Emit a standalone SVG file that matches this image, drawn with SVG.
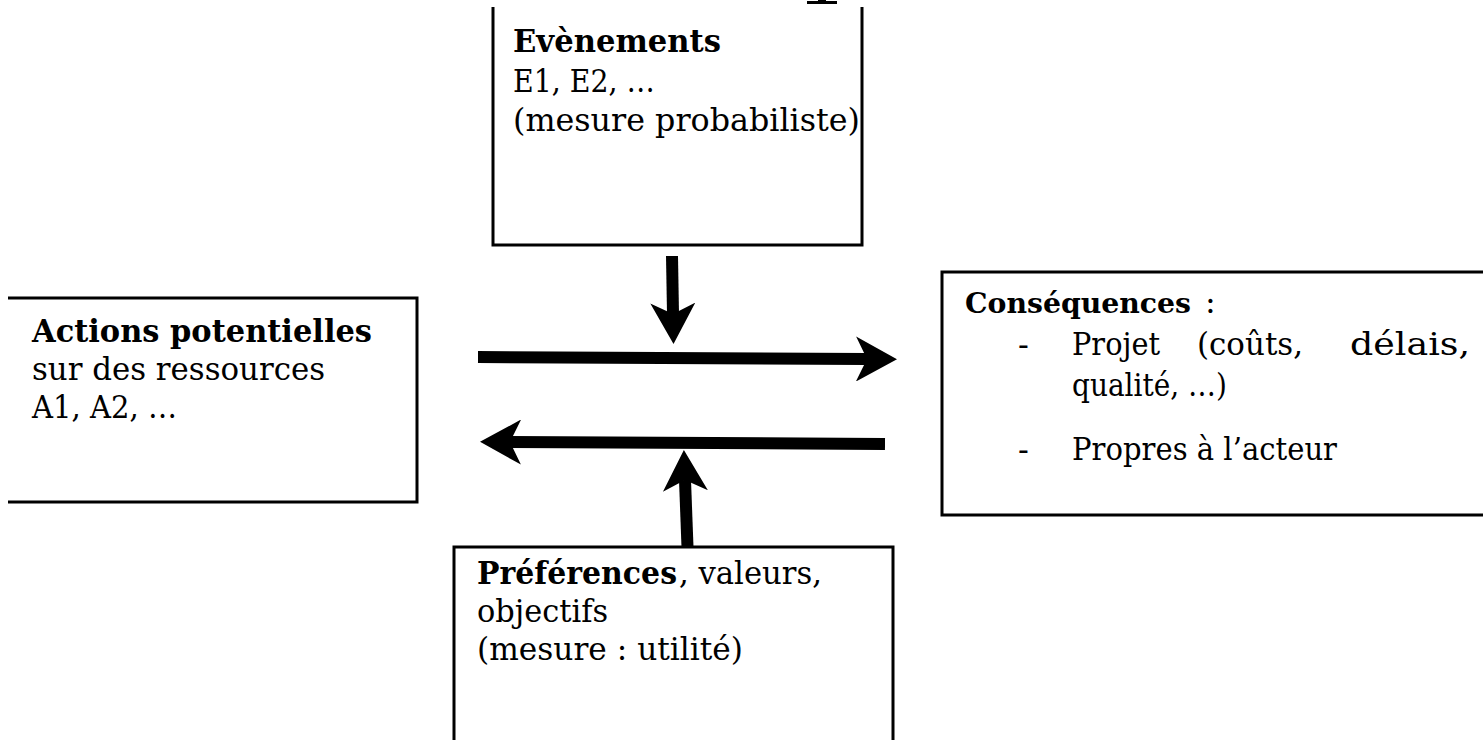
<svg xmlns="http://www.w3.org/2000/svg" width="1483" height="740" viewBox="0 0 1483 740">
<style>
  .box { fill: none; stroke: #000; stroke-width: 3; }
  .t { font-family: "DejaVu Serif", "Liberation Serif", serif; font-size: 32px; fill: #000; }
  .b { font-weight: bold; }
  .arrow { stroke: #000; stroke-width: 12; fill: none; marker-end: url(#head); }
</style>
<defs>
  <marker id="head" markerUnits="userSpaceOnUse" viewBox="0 0 41 45" markerWidth="41" markerHeight="45" refX="11" refY="22.5" orient="auto">
    <path d="M0,0 L41,22.5 L0,45 L11,22.5 Z" fill="#000"/>
  </marker>
</defs>
<rect width="1483" height="740" fill="#fff"/>

<path d="M807,4 L837,4 L837,1 L826,1 L826,0 L818,0 L818,1 L807,1 Z" fill="#000"/>

<g id="evenements">
  <path class="box" d="M493,7 V245 H862 V7"/>
  <text class="t b" x="513" y="52" textLength="208" lengthAdjust="spacingAndGlyphs">Evènements</text>
  <text class="t" x="513" y="92" textLength="142" lengthAdjust="spacingAndGlyphs">E1, E2, …</text>
  <text class="t" x="513" y="131" textLength="347" lengthAdjust="spacingAndGlyphs">(mesure probabiliste)</text>
</g>

<g id="actions">
  <path class="box" d="M8,298 H417 V502 H8"/>
  <text class="t b" x="32" y="342" textLength="340" lengthAdjust="spacingAndGlyphs">Actions potentielles</text>
  <text class="t" x="32" y="380" textLength="293" lengthAdjust="spacingAndGlyphs">sur des ressources</text>
  <text class="t" x="32" y="418" textLength="145" lengthAdjust="spacingAndGlyphs">A1, A2, …</text>
</g>

<g id="consequences">
  <path class="box" d="M1483,272 H942 V515 H1483"/>
  <text class="t b" x="965" y="313" style="font-size:28px" textLength="226" lengthAdjust="spacingAndGlyphs">Conséquences</text>
  <text class="t" x="1205" y="313">:</text>
  <text class="t" x="1018" y="355">-</text>
  <text class="t" x="1072" y="355" textLength="88" lengthAdjust="spacingAndGlyphs">Projet</text>
  <text class="t" x="1197" y="355" textLength="106" lengthAdjust="spacingAndGlyphs">(coûts,</text>
  <text class="t" x="1350" y="355" textLength="120" lengthAdjust="spacingAndGlyphs">délais,</text>
  <text class="t" x="1072" y="396" textLength="155" lengthAdjust="spacingAndGlyphs">qualité, …)</text>
  <text class="t" x="1018" y="460">-</text>
  <text class="t" x="1072" y="460" textLength="265" lengthAdjust="spacingAndGlyphs">Propres à l’acteur</text>
</g>

<g id="preferences">
  <path class="box" d="M454,740 V547 H893 V740"/>
  <text class="t b" x="477" y="584" textLength="200" lengthAdjust="spacingAndGlyphs">Préférences</text>
  <text class="t" x="679" y="584" textLength="143" lengthAdjust="spacingAndGlyphs">, valeurs,</text>
  <text class="t" x="477" y="622" textLength="131" lengthAdjust="spacingAndGlyphs">objectifs</text>
  <text class="t" x="477" y="660" textLength="266" lengthAdjust="spacingAndGlyphs">(mesure : utilité)</text>
</g>

<g id="connectors">
  <line class="arrow" x1="672" y1="256" x2="673" y2="314"/>
  <line class="arrow" x1="478" y1="357" x2="867" y2="359"/>
  <line class="arrow" x1="885" y1="444" x2="510" y2="442"/>
  <line class="arrow" x1="687.5" y1="547" x2="685" y2="480"/>
</g>
</svg>
